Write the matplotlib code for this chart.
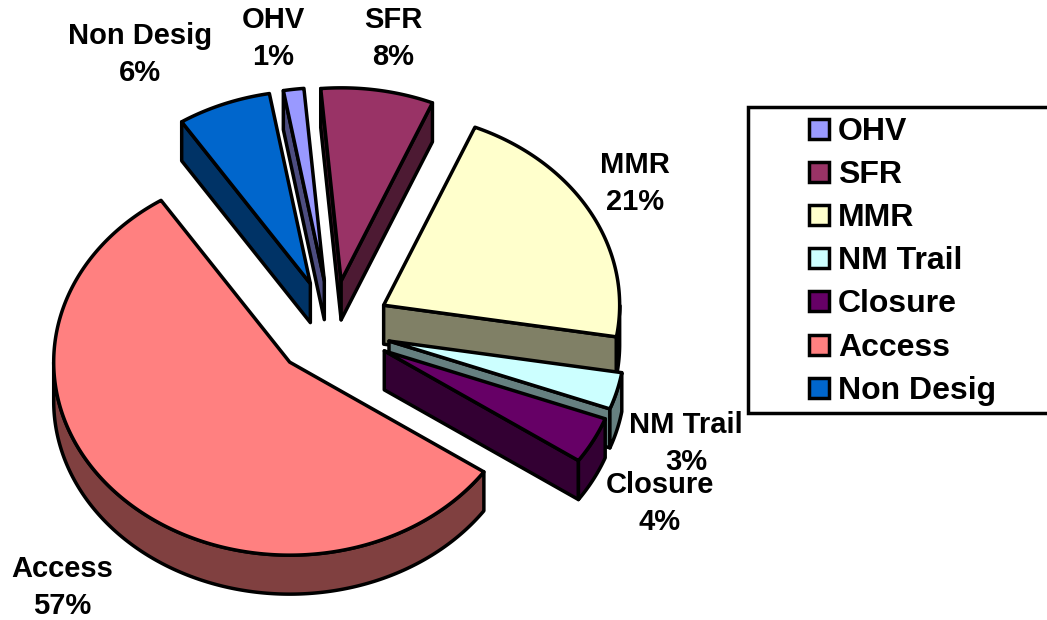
import numpy as np
import matplotlib
matplotlib.use("Agg")
import matplotlib.pyplot as plt
from matplotlib.patches import Polygon, Rectangle

names = ["OHV", "SFR", "MMR", "NM Trail", "Closure", "Access", "Non Desig"]
shares = [1.4, 7.7, 21.3, 3.1, 3.9, 56.2, 6.4]
percents = ["1%", "8%", "21%", "3%", "4%", "57%", "6%"]
colors = ["#9999FF", "#993366", "#FFFFCC", "#CCFFFF", "#660066", "#FF8080", "#0066CC"]
label_xy = [(273, 20), (393, 20), (635, 165), (686, 425), (660, 485), (62, 569), (140, 36)]

plt.rcParams["font.family"] = ["Liberation Sans", "DejaVu Sans"]
plt.rcParams["font.weight"] = "bold"

# pie geometry, in picture pixels
cx, cy = 332, 328.5
rx, ry = 236, 193
depth = 39
explode = 0.25
start = -10.0
lw = 2.5


def arc(ox, oy, t0, t1, dy=0):
    t = np.radians(np.linspace(t0, t1, max(2, int(abs(t1 - t0)) * 2)))
    return np.column_stack([ox + rx * np.sin(t), oy - ry * np.cos(t) + dy])


def darker(c):
    return tuple(v * 0.5 for v in matplotlib.colors.to_rgb(c))


fig = plt.figure(figsize=(10.47, 6.2), dpi=100)
ax = fig.add_axes([0, 0, 1, 1])
ax.set_xlim(0, 1047)
ax.set_ylim(620, 0)
ax.axis("off")

slices = []
t = start
for i, s in enumerate(shares):
    t1 = t + s * 3.6
    mid = np.radians((t + t1) / 2)
    ox = cx + explode * rx * np.sin(mid)
    oy = cy - explode * ry * np.cos(mid)
    slices.append((oy, i, t, t1, ox))
    t = t1

# back to front
for oy, i, t0, t1, ox in sorted(slices):
    col = colors[i]
    side = darker(col)
    apex = np.array([[ox, oy]])
    for wall_t, show in ((t0, np.sin(np.radians(t0)) < 0), (t1, np.sin(np.radians(t1)) > 0)):
        if show:
            p = arc(ox, oy, wall_t, wall_t)[:1]
            pts = np.vstack([apex, p, p + [0, depth], apex + [0, depth]])
            ax.add_patch(Polygon(pts, fc=side, ec="black", lw=lw, joinstyle="round"))
    a0, a1 = max(t0, 90), min(t1, 270)
    if a1 > a0:
        top = arc(ox, oy, a0, a1)
        pts = np.vstack([top, top[::-1] + [0, depth]])
        ax.add_patch(Polygon(pts, fc=side, ec="black", lw=lw, joinstyle="round"))
    pts = np.vstack([apex, arc(ox, oy, t0, t1)])
    ax.add_patch(Polygon(pts, fc=col, ec="black", lw=lw, joinstyle="round"))

for i, (x, y) in enumerate(label_xy):
    ax.text(x, y, names[i], ha="center", va="center", fontsize=21, color="black")
    ax.text(x, y + 37, percents[i], ha="center", va="center", fontsize=21, color="black")

# legend box runs off the right edge
ax.add_patch(Rectangle((747.5, 107), 320, 306, fc="white", ec="black", lw=lw))
for i, name in enumerate(names):
    y = 129 + i * 43.1
    ax.add_patch(Rectangle((809, y - 10), 20, 20, fc=colors[i], ec="black", lw=lw))
    ax.text(838, y + 3, name, ha="left", va="center", fontsize=23, color="black")

fig.savefig("out.png", dpi=100)
